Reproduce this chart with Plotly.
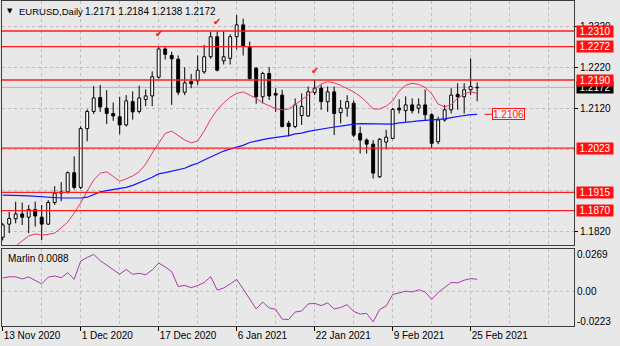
import pandas as pd
import plotly.graph_objects as go

# ---- daily EURUSD bars (no sessions on 25 Dec and 1 Jan) ----
DATES = [d for d in pd.bdate_range("2020-11-13", "2021-02-26")
         if d.strftime("%m-%d") not in ("12-25", "01-01")]

OPEN = [1.1805, 1.1837, 1.1850, 1.1862, 1.1854, 1.1873, 1.1854, 1.1837, 1.1890, 1.1913,
        1.1916, 1.1963, 1.1927, 1.2071, 1.2113, 1.2147, 1.2121, 1.2108, 1.2100, 1.2080,
        1.2137, 1.2113, 1.2142, 1.2151, 1.2197, 1.2266, 1.2250, 1.2241, 1.2160, 1.2186,
        1.2188, 1.2210, 1.2247, 1.2296, 1.2237, 1.2243, 1.2296, 1.2325, 1.2272, 1.2219,
        1.2149, 1.2206, 1.2157, 1.2153, 1.2084, 1.2076, 1.2103, 1.2102, 1.2159, 1.2170,
        1.2137, 1.2161, 1.2110, 1.2121, 1.2133, 1.2059, 1.2043, 1.2033, 1.1953, 1.2038,
        1.2047, 1.2121, 1.2115, 1.2129, 1.2121, 1.2129, 1.2105, 1.2039, 1.2092, 1.2117,
        1.2155, 1.2149, 1.2166, 1.2171]
HIGH = [1.1840, 1.1867, 1.1892, 1.1890, 1.1884, 1.1892, 1.1884, 1.1896, 1.1930, 1.1940,
        1.1966, 1.2003, 1.2077, 1.2118, 1.2175, 1.2178, 1.2165, 1.2135, 1.2149, 1.2153,
        1.2162, 1.2176, 1.2167, 1.2211, 1.2273, 1.2272, 1.2259, 1.2250, 1.2221, 1.2205,
        1.2250, 1.2276, 1.2308, 1.2309, 1.2309, 1.2302, 1.2349, 1.2340, 1.2284, 1.2222,
        1.2210, 1.2222, 1.2170, 1.2166, 1.2090, 1.2145, 1.2157, 1.2174, 1.2190, 1.2178,
        1.2174, 1.2174, 1.2141, 1.2153, 1.2140, 1.2076, 1.2047, 1.2043, 1.2048, 1.2068,
        1.2122, 1.2143, 1.2150, 1.2145, 1.2145, 1.2167, 1.2109, 1.2100, 1.2129, 1.2170,
        1.2182, 1.2182, 1.2243, 1.2184]
LOW = [1.1797, 1.1815, 1.1839, 1.1835, 1.1815, 1.1831, 1.1798, 1.1835, 1.1884, 1.1893,
       1.1912, 1.1922, 1.1923, 1.2040, 1.2107, 1.2112, 1.2082, 1.2090, 1.2057, 1.2076,
       1.2093, 1.2108, 1.2126, 1.2126, 1.2193, 1.2240, 1.2129, 1.2153, 1.2153, 1.2170,
       1.2178, 1.2205, 1.2242, 1.2211, 1.2228, 1.2228, 1.2265, 1.2250, 1.2190, 1.2132,
       1.2133, 1.2141, 1.2112, 1.2074, 1.2052, 1.2072, 1.2080, 1.2100, 1.2153, 1.2117,
       1.2112, 1.2055, 1.2084, 1.2100, 1.2050, 1.2010, 1.2010, 1.1949, 1.1950, 1.2020,
       1.2045, 1.2108, 1.2088, 1.2108, 1.2108, 1.2092, 1.2023, 1.2033, 1.2088, 1.2108,
       1.2117, 1.2108, 1.2153, 1.2138]
CLOSE = [1.1835, 1.1851, 1.1862, 1.1854, 1.1873, 1.1857, 1.1837, 1.1890, 1.1913, 1.1916,
         1.1963, 1.1927, 1.2071, 1.2113, 1.2146, 1.2124, 1.2108, 1.2102, 1.2080, 1.2139,
         1.2112, 1.2146, 1.2151, 1.2198, 1.2266, 1.2253, 1.2242, 1.2160, 1.2183, 1.2181,
         1.2214, 1.2247, 1.2296, 1.2214, 1.2247, 1.2296, 1.2325, 1.2272, 1.2193, 1.2149,
         1.2206, 1.2151, 1.2153, 1.2076, 1.2076, 1.2129, 1.2125, 1.2161, 1.2170, 1.2137,
         1.2161, 1.2108, 1.2121, 1.2137, 1.2055, 1.2043, 1.2033, 1.1962, 1.2045, 1.2050,
         1.2118, 1.2117, 1.2129, 1.2115, 1.2129, 1.2105, 1.2035, 1.2092, 1.2117, 1.2153,
         1.2149, 1.2166, 1.2174, 1.2172]

# ---- moving averages ----
MA_FAST = [1.1754, 1.1769, 1.1783, 1.1796, 1.1808, 1.1813, 1.1810, 1.1812, 1.1815, 1.1828,
           1.1842, 1.1864, 1.1889, 1.1918, 1.1945, 1.1962, 1.1965, 1.1954, 1.1942, 1.1948,
           1.1955, 1.1965, 1.1984, 1.2011, 1.2036, 1.2059, 1.2065, 1.2055, 1.2043, 1.2036,
           1.2041, 1.2065, 1.2094, 1.2117, 1.2134, 1.2148, 1.2157, 1.2161, 1.2153, 1.2145,
           1.2134, 1.2126, 1.2120, 1.2117, 1.2119, 1.2130, 1.2141, 1.2153, 1.2168, 1.2180,
           1.2186, 1.2183, 1.2177, 1.2170, 1.2161, 1.2150, 1.2136, 1.2119, 1.2119, 1.2126,
           1.2139, 1.2163, 1.2177, 1.2182, 1.2179, 1.2172, 1.2156, 1.2131, 1.2124, 1.2130,
           1.2145, 1.2156, 1.2161, 1.2157]
MA_SLOW = [1.1908, 1.1908, 1.1908, 1.1907, 1.1906, 1.1905, 1.1903, 1.1902, 1.1901, 1.1901,
           1.1901, 1.1901, 1.1901, 1.1903, 1.1910, 1.1916, 1.1919, 1.1922, 1.1924, 1.1927,
           1.1932, 1.1938, 1.1945, 1.1952, 1.1960, 1.1963, 1.1967, 1.1970, 1.1974, 1.1981,
           1.1986, 1.1994, 1.2001, 1.2009, 1.2016, 1.2021, 1.2025, 1.2030, 1.2037, 1.2041,
           1.2044, 1.2047, 1.2049, 1.2052, 1.2054, 1.2058, 1.2060, 1.2064, 1.2067, 1.2070,
           1.2072, 1.2075, 1.2077, 1.2080, 1.2082, 1.2083, 1.2083, 1.2082, 1.2082, 1.2082,
           1.2082, 1.2085, 1.2086, 1.2088, 1.2090, 1.2091, 1.2092, 1.2093, 1.2095, 1.2098,
           1.2101, 1.2103, 1.2105, 1.2106]

# ---- Marlin oscillator ----
MARLIN = [0.0097, 0.0106, 0.0106, 0.0090, 0.0105, 0.0079, 0.0054, 0.0103, 0.0112, 0.0099,
          0.0136, 0.0088, 0.0221, 0.0247, 0.0269, 0.0224, 0.0192, 0.0157, 0.0125, 0.0159,
          0.0124, 0.0131, 0.0121, 0.0156, 0.0206, 0.0178, 0.0144, 0.0035, 0.0043, 0.0027,
          0.0042, 0.0064, 0.0107, 0.0009, 0.0024, 0.0054, 0.0087, 0.0017, -0.0056, -0.0129,
          -0.0079, -0.0122, -0.0131, -0.0203, -0.0206, -0.0151, -0.0144, -0.0092, -0.0088, -0.0104,
          -0.0085, -0.0129, -0.0118, -0.0097, -0.0147, -0.0166, -0.0161, -0.0223, -0.0133, -0.0107,
          -0.0024, -0.0011, 0.0001, -0.0005, 0.0011, -0.0005, -0.0060, -0.0009, 0.0027, 0.0064,
          0.0062, 0.0081, 0.0093, 0.0088]

# ---- horizontal levels and axis ticks ----
LEVELS = [1.2310, 1.2272, 1.2190, 1.2023, 1.1915, 1.1870]
BID = 1.2172
PRICE_TICKS = [1.1820, 1.2120, 1.2220, 1.2320]      # labelled price ticks
PRICE_GRID_START, PRICE_GRID_STEP = 1.1820, 0.0100   # price grid spacing
MARLIN_TICKS = [0.0269, 0.0, -0.0223]
MARLIN_TICK_TEXT = ["0.0269", "0.00", "-0.0223"]
CHECK_BARS = [24, 33, 48]
CHECK_PRICES = [1.2303, 1.2334, 1.2214]

BG = "#e8e8e8"
GRID = "#bdbdbd"
FRAME = "#3c3c3c"
FONT = "Liberation Sans, Arial, sans-serif"

n = len(CLOSE)
idx = list(range(n))
LABEL_STEP = 12
date_ticks = list(range(0, n, LABEL_STEP))
date_text = [f"{DATES[i].day} {DATES[i].strftime('%b %Y')}" for i in date_ticks]

fig = go.Figure()

# wicks, split around the body so white bodies stay clean
wx, wy = [], []
for i in idx:
    top, bot = max(OPEN[i], CLOSE[i]), min(OPEN[i], CLOSE[i])
    wx += [i, i, None, i, i, None]
    wy += [HIGH[i], top, None, bot, LOW[i], None]
fig.add_trace(go.Scatter(x=wx, y=wy, mode="lines", line=dict(color="black", width=1),
                         xaxis="x", yaxis="y", hoverinfo="skip"))

# candle bodies
body_base = [min(o, c) for o, c in zip(OPEN, CLOSE)]
body_len = [max(abs(c - o), 0.00006) for o, c in zip(OPEN, CLOSE)]
body_col = ["white" if c >= o else "black" for o, c in zip(OPEN, CLOSE)]
fig.add_trace(go.Bar(x=idx, y=body_len, base=body_base, width=0.45,
                     marker=dict(color=body_col, line=dict(color="black", width=1)),
                     xaxis="x", yaxis="y", hoverinfo="skip"))

fig.add_trace(go.Scatter(x=idx, y=MA_FAST, mode="lines", line=dict(color="#e43c5c", width=1),
                         xaxis="x", yaxis="y"))
fig.add_trace(go.Scatter(x=idx, y=MA_SLOW, mode="lines", line=dict(color="#1414ff", width=1.2),
                         xaxis="x", yaxis="y"))
fig.add_trace(go.Scatter(x=idx, y=MARLIN, mode="lines", line=dict(color="#a83ca8", width=1),
                         xaxis="x2", yaxis="y2"))

x_lo = -0.108
x_hi = 87.9
grid_common = dict(showgrid=True, gridcolor=GRID, griddash="dot", gridwidth=1)

fig.update_layout(
    width=620, height=346,
    margin=dict(l=2, r=46, t=1, b=20),
    paper_bgcolor=BG, plot_bgcolor=BG,
    showlegend=False, hovermode=False,
    font=dict(family=FONT, size=10, color="black"),
    xaxis=dict(domain=[0, 1], anchor="y", range=[x_lo, x_hi], tickmode="linear", tick0=0, dtick=6,
               showticklabels=False, ticks="", zeroline=False,
               showline=True, mirror=True, linecolor=FRAME, linewidth=1, **grid_common),
    yaxis=dict(domain=[0.2492, 1], anchor="x", side="right", range=[1.17859, 1.23835],
               tickmode="array", tickvals=PRICE_TICKS, tickformat=".4f",
               ticks="outside", ticklen=3, tickcolor="black", zeroline=False,
               minor=dict(tickmode="linear", tick0=PRICE_GRID_START, dtick=PRICE_GRID_STEP,
                          showgrid=True, gridcolor=GRID, griddash="dot", ticklen=0),
               showline=True, mirror=True, linecolor=FRAME, linewidth=1, **grid_common),
    xaxis2=dict(domain=[0, 1], anchor="y2", matches="x", range=[x_lo, x_hi],
                tickmode="array", tickvals=date_ticks, ticktext=date_text,
                ticks="outside", ticklen=4, tickcolor="black", ticklabelposition="outside right",
                minor=dict(tickmode="linear", tick0=0, dtick=6, showgrid=True, gridcolor=GRID,
                           griddash="dot", ticklen=0),
                zeroline=False, showline=True, mirror=True, linecolor=FRAME, linewidth=1,
                **grid_common),
    yaxis2=dict(domain=[0, 0.236], anchor="x2", side="right", range=[-0.02533, 0.03066],
                tickmode="array", tickvals=MARLIN_TICKS, ticktext=MARLIN_TICK_TEXT,
                ticks="", showgrid=False, zeroline=False,
                showline=True, mirror=True, linecolor=FRAME, linewidth=1),
)

shapes = []
# bid line
shapes.append(dict(type="line", xref="x domain", yref="y", x0=0, x1=1, y0=BID, y1=BID,
                   line=dict(color="#b4b4b4", width=1), layer="below"))
for lv in LEVELS:
    shapes.append(dict(type="line", xref="x domain", yref="y", x0=0, x1=1, y0=lv, y1=lv,
                       line=dict(color="#ff1c1c", width=1.3)))
# zero level of the oscillator
shapes.append(dict(type="line", xref="x2 domain", yref="y2", x0=0, x1=1, y0=0, y1=0,
                   line=dict(color=GRID, width=1, dash="dot"), layer="below"))
fig.update_layout(shapes=shapes)

ann = []
# current bid price tag, then level tags on top
ann.append(dict(xref="paper", yref="y", x=1, y=BID, xanchor="left", yanchor="middle", xshift=2,
                text=f"{BID:.4f}", showarrow=False, bgcolor="black", width=36, height=11,
                borderpad=0, font=dict(color="white", size=10)))
for lv in LEVELS:
    ann.append(dict(xref="paper", yref="y", x=1, y=lv, xanchor="left", yanchor="middle", xshift=2,
                    text=f"{lv:.4f}", showarrow=False, bgcolor="#ff1010", width=36, height=11,
                    borderpad=0, font=dict(color="white", size=10)))
# slow average value tag
ann.append(dict(xref="x", yref="y", x=n - 1 + 1.15, y=MA_SLOW[-1], text=f"{MA_SLOW[-1]:.4f}",
                showarrow=True, arrowhead=0, arrowwidth=1, arrowcolor="#ff1010", ax=24, ay=0,
                standoff=0, bgcolor="#f2f2f2", bordercolor="#ff1010", borderwidth=1, borderpad=0,
                width=31, height=10, font=dict(color="#ff1010", size=10)))
# check marks
for b, p in zip(CHECK_BARS, CHECK_PRICES):
    ann.append(dict(xref="x", yref="y", x=b, y=p, text="\u2714", showarrow=False,
                    font=dict(color="#ff1010", size=10, family="DejaVu Sans")))
# chart header
ann.append(dict(xref="paper", yref="paper", x=0, y=1, xanchor="left", yanchor="top",
                xshift=3, yshift=-4, text="\u25bc", showarrow=False,
                font=dict(size=7, family="DejaVu Sans", color="black")))
ann.append(dict(xref="paper", yref="paper", x=0, y=1, xanchor="left", yanchor="top",
                xshift=15, yshift=-3, text="EURUSD,Daily", showarrow=False,
                font=dict(size=9.5)))
ann.append(dict(xref="paper", yref="paper", x=0, y=1, xanchor="left", yanchor="top",
                xshift=81, yshift=-3,
                text=f"{OPEN[-1]:.4f} {HIGH[-1]:.4f} {LOW[-1]:.4f} {CLOSE[-1]:.4f}",
                showarrow=False, font=dict(size=10)))
ann.append(dict(xref="paper", yref="y2 domain", x=0, y=1, xanchor="left", yanchor="top",
                xshift=4, yshift=-2, text=f"Marlin {MARLIN[-1]:.4f}", showarrow=False,
                font=dict(size=10)))
fig.update_layout(annotations=ann)

fig.write_html("out.html")
